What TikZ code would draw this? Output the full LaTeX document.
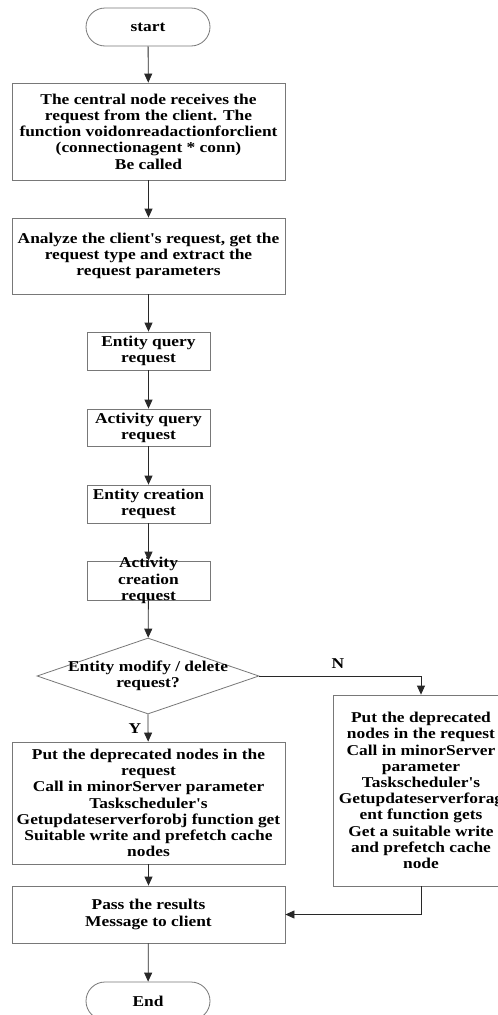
\documentclass[tikz,border=0pt]{standalone}
\usepackage{fontspec}
\setmainfont{Liberation Serif}[FakeStretch=1.16, Ligatures=TeXOff]
\usetikzlibrary{arrows.meta,shapes.geometric,shapes.misc}
\definecolor{boxgray}{RGB}{120,120,120}
\definecolor{linegray}{RGB}{40,40,40}
\begin{document}
\begin{tikzpicture}[x=1pt,y=-1pt,
  txt/.style={align=center, inner sep=0pt, font=\fontsize{15}{16.2}\selectfont\bfseries},
  box/.style={txt, draw=boxgray, line width=0.8pt, rectangle},
  term/.style={txt, draw=boxgray, line width=0.8pt, rounded rectangle, minimum width=124pt, minimum height=38pt},
  dia/.style={draw=boxgray, line width=0.8pt, diamond, inner sep=0pt, minimum width=222pt, minimum height=76pt},
  arr/.style={draw=linegray, line width=0.8pt, -{Triangle[length=9pt,width=8pt]}},
]
\useasboundingbox (0,0) rectangle (498,1015);
\fill[white] (0,0) rectangle (498,1015);

\node[term] (start) at (148,27) {start};
\node[box, minimum width=273pt, minimum height=97pt] (b1) at (148.5,131.5)
  {The central node receives the\\request from the client. The\\function voidonreadactionforclient\\(connectionagent * conn)\\Be called};
\node[box, minimum width=273pt, minimum height=76pt] (b2) at (148.5,256)
  {Analyze the client's request, get the\\request type and extract the\\request parameters};
\node[box, minimum width=123pt, minimum height=38pt] (b3) at (148.5,351) {Entity query\\request};
\node[box, minimum width=123pt, minimum height=37pt] (b4) at (148.5,427.5) {Activity query\\request};
\node[box, minimum width=123pt, minimum height=38pt] (b5) at (148.5,504) {Entity creation\\request};
\node[box, minimum width=123pt, minimum height=39pt] (b6) at (148.5,580.5) {};
\node[txt] (b6t) at (148.5,580.5) {Activity\\creation\\request};
\node[dia] (dec) at (148,676) {};
\node[txt] (dect) at (148,676) {Entity modify / delete\\request?};
\node[box, minimum width=273pt, minimum height=122pt] (b8) at (148.5,803)
  {Put the deprecated nodes in the\\request\\Call in minorServer parameter\\Taskscheduler's\\Getupdateserverforobj function get\\Suitable write and prefetch cache\\nodes};
\node[box, minimum width=176pt, minimum height=191pt] (b7) at (421,790.5)
  {Put the deprecated\\nodes in the request\\Call in minorServer\\parameter\\Taskscheduler's\\Getupdateserverforag\\ent function gets\\Get a suitable write\\and prefetch cache\\node};
\node[box, minimum width=273pt, minimum height=57pt] (b9) at (148.5,914.5)
  {Pass the results\\Message to client};
\node[term] (end) at (148,1001) {End};

\node[txt] (ylab) at (135,729) {Y};
\node[txt] (nlab) at (338,664) {N};

\draw[arr] (start) -- (b1);
\draw[arr] (b1) -- (b2);
\draw[arr] (b2) -- (b3);
\draw[arr] (b3) -- (b4);
\draw[arr] (b4) -- (b5);
\draw[arr] (b5) -- (b6);
\draw[arr] (b6) -- (dec);
\draw[arr] (dec.south) -- (b8);
\draw[arr] (dec.east) -| (b7.north);
\draw[arr] (b8) -- (b9);
\draw[arr] (b7.south) |- (b9.east);
\draw[arr] (b9) -- (end);
\end{tikzpicture}
\end{document}
